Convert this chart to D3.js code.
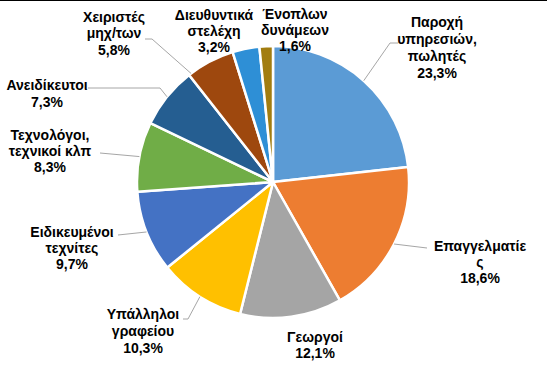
<!DOCTYPE html>
<html>
<head>
<meta charset="utf-8">
<script src="https://cdn.jsdelivr.net/npm/d3@7"></script>
<style>
  body { margin: 0; background: #fff; }
  svg { display: block; }
</style>
</head>
<body>
<div id="chart-area"></div>
<script>
// Data
var categories = ["Παροχή υπηρεσιών, πωλητές", "Επαγγελματίες", "Γεωργοί", "Υπάλληλοι γραφείου",
    "Ειδικευμένοι τεχνίτες", "Τεχνολόγοι, τεχνικοί κλπ", "Ανειδίκευτοι", "Χειριστές μηχ/των",
    "Διευθυντικά στελέχη", "Ένοπλων δυνάμεων"];
var values = [23.3, 18.6, 12.1, 10.3, 9.7, 8.3, 7.3, 5.8, 3.2, 1.6];
var labelLines = [
    ["Παροχή", "υπηρεσιών,", "πωλητές"],
    ["Επαγγελματίε", "ς"],
    ["Γεωργοί"],
    ["Υπάλληλοι", "γραφείου"],
    ["Ειδικευμένοι", "τεχνίτες"],
    ["Τεχνολόγοι,", "τεχνικοί κλπ"],
    ["Ανειδίκευτοι"],
    ["Χειριστές", "μηχ/των"],
    ["Διευθυντικά", "στελέχη"],
    ["Ένοπλων", "δυνάμεων"]
];
var colors = ["#5B9BD5", "#ED7D31", "#A5A5A5", "#FFC000", "#4472C4", "#70AD47",
    "#255E91", "#9E480E", "#2E8FD6", "#A27D10"];

// Label layout: text centre x, first line y, line height, leader (points near text, angle fraction on slice)
var labelLayout = [
    {x: 437, y: 22, lh: 17, leader: [[398, 43], [390, 43]], f: 0.5},
    {x: 480, y: 246, lh: 16, leader: [[427, 248]], f: 0.5},
    {x: 315, y: 337, lh: 16, leader: null},
    {x: 143, y: 314, lh: 17, leader: [[183, 319], [188, 319]], f: 0.5},
    {x: 72, y: 232, lh: 16, leader: [[118, 235]], f: 0.5},
    {x: 50, y: 135, lh: 16, leader: [[100, 153]], f: 0.5},
    {x: 47, y: 85, lh: 17, leader: [[88, 88], [160, 88]], f: 0.5},
    {x: 114, y: 17, lh: 16.5, leader: [[145, 39], [152, 39]], f: 0.05},
    {x: 214, y: 15, lh: 16, leader: null},
    {x: 295, y: 14, lh: 16, leader: null}
];

var width = 547, height = 366;
var cx = 273, cy = 182, radius = 136;

var svg = d3.select("#chart-area")
    .append("svg")
        .attr("width", width)
        .attr("height", height);

// top border
svg.append("line")
    .attr("x1", 0).attr("x2", width)
    .attr("y1", 0.5).attr("y2", 0.5)
    .attr("stroke", "#000")
    .attr("stroke-width", 1);

var pie = d3.pie().sort(null).value(d => d);
var arcs = pie(values);

var arc = d3.arc().innerRadius(0).outerRadius(radius);

var g = svg.append("g")
    .attr("transform", "translate(" + cx + "," + cy + ")");

g.selectAll("path.slice")
    .data(arcs)
    .enter()
    .append("path")
        .attr("class", "slice")
        .attr("d", arc)
        .attr("fill", (d, i) => colors[i])
        .attr("stroke", "#fff")
        .attr("stroke-width", 2.5)
        .attr("stroke-linejoin", "round");

// Leader lines
var line = d3.line();
arcs.forEach((d, i) => {
    var lay = labelLayout[i];
    if (!lay.leader) return;
    var a = d.startAngle + (d.endAngle - d.startAngle) * lay.f;
    var edge = [cx + radius * Math.sin(a), cy - radius * Math.cos(a)];
    svg.append("path")
        .attr("d", line(lay.leader.concat([edge])))
        .attr("fill", "none")
        .attr("stroke", "#A6A6A6")
        .attr("stroke-width", 1);
});

// Labels
var fmt = v => d3.format(".1f")(v).replace(".", ",") + "%";
arcs.forEach((d, i) => {
    var lay = labelLayout[i];
    var lines = labelLines[i].concat([fmt(values[i])]);
    var t = svg.append("text")
        .attr("text-anchor", "middle")
        .attr("font-family", "'Liberation Sans', Arial, sans-serif")
        .attr("font-weight", "bold")
        .attr("font-size", "14px")
        .attr("fill", "#000");
    lines.forEach((s, k) => {
        t.append("tspan")
            .attr("x", lay.x)
            .attr("y", lay.y + k * lay.lh)
            .attr("dy", "0.35em")
            .text(s);
    });
});
</script>
</body>
</html>
